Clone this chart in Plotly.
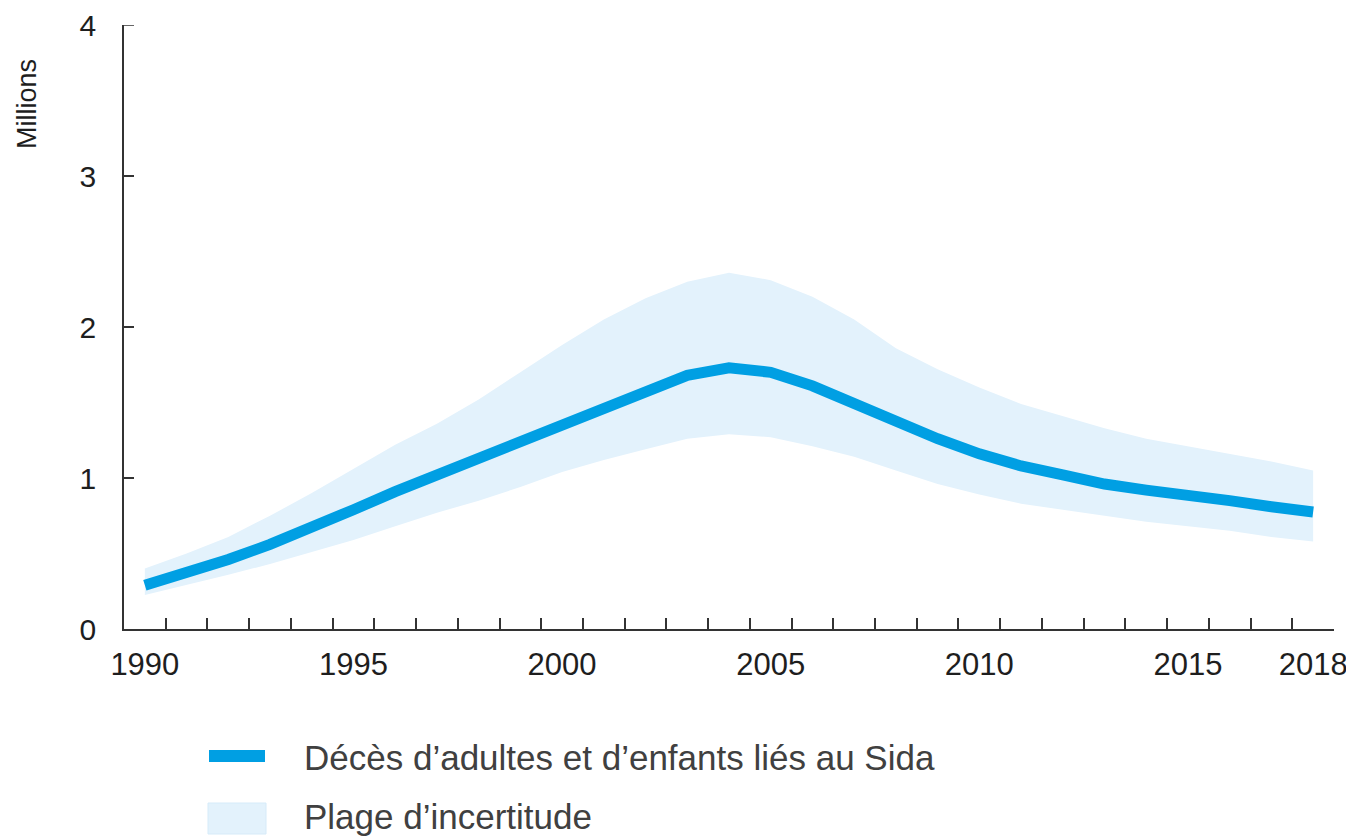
import plotly.graph_objects as go

years = list(range(1990, 2019))
deaths = [0.29, 0.37, 0.46, 0.56, 0.67, 0.79, 0.91, 1.02, 1.13, 1.24,
          1.36, 1.47, 1.58, 1.68, 1.73, 1.70, 1.61, 1.49, 1.37, 1.26,
          1.16, 1.08, 1.02, 0.96, 0.92, 0.89, 0.85, 0.81, 0.775]
upper = [0.40, 0.50, 0.61, 0.75, 0.90, 1.06, 1.22, 1.36, 1.52, 1.70,
         1.88, 2.05, 2.19, 2.30, 2.36, 2.31, 2.20, 2.05, 1.86, 1.72,
         1.60, 1.49, 1.41, 1.33, 1.26, 1.21, 1.16, 1.11, 1.05]
lower = [0.225, 0.29, 0.36, 0.43, 0.51, 0.59, 0.68, 0.77, 0.85, 0.94,
         1.04, 1.12, 1.19, 1.26, 1.29, 1.27, 1.21, 1.14, 1.05, 0.96,
         0.89, 0.83, 0.79, 0.75, 0.71, 0.68, 0.65, 0.61, 0.58]
tick_years = [1990, 1995, 2000, 2005, 2010, 2015, 2018]
y_ticks = [0, 1, 2, 3, 4]
legend_labels = ["D\u00e9c\u00e8s d\u2019adultes et d\u2019enfants li\u00e9s au Sida",
                 "Plage d\u2019incertitude"]

line_color = "#009fe3"
band_color = "#e3f2fc"
text_color = "#404040"
axis_text = "#1e1e1e"
font_family = "Liberation Sans, Arial, sans-serif"

# the page body has an 8px margin: size the figure so it fills the window
OFF = 8
W, H = 1354 - OFF, 838 - OFF
ML, MR, MT, MB = 124 - OFF, 20, 25 - OFF, 838 - 629
PW, PH = W - ML - MR, H - MT - MB
YTICKLEN = 10


def px_x(px):
    # px is a window pixel position
    return (px - OFF - ML) / PW


def px_y(py):
    return (H - MB - (py - OFF)) / PH


fig = go.Figure()
fig.add_trace(go.Scatter(x=years, y=lower, mode="lines", line=dict(width=0, color=band_color),
                         showlegend=False, hoverinfo="skip"))
fig.add_trace(go.Scatter(x=years, y=upper, mode="lines", line=dict(width=0, color=band_color),
                         fill="tonexty", fillcolor=band_color, name=legend_labels[1],
                         showlegend=False))
fig.add_trace(go.Scatter(x=years, y=deaths, mode="lines", line=dict(width=11, color=line_color),
                         name=legend_labels[0], showlegend=False))

fig.update_layout(
    width=W, height=H,
    margin=dict(l=ML, r=MR, t=MT, b=MB, autoexpand=False),
    paper_bgcolor="white", plot_bgcolor="white",
    font=dict(family=font_family, color=text_color, size=30),
    showlegend=False,
    xaxis=dict(range=[1989.5, 2018.5], showgrid=False, zeroline=False, automargin=False,
               showline=True, linecolor="#333333", linewidth=1.5,
               tickmode="array", tickvals=tick_years, ticktext=[str(t) for t in tick_years],
               ticks="inside", ticklen=0, tickcolor="rgba(0,0,0,0)",
               ticklabelstandoff=7, ticklabeloverflow="allow",
               tickfont=dict(size=31, color=axis_text),
               minor=dict(tickmode="linear", tick0=1990.5, dtick=1, ticks="inside",
                          ticklen=11, tickcolor="#333333", tickwidth=1.5, showgrid=False)),
    yaxis=dict(range=[0, 4], showgrid=False, zeroline=False, automargin=False,
               showline=True, linecolor="#333333", linewidth=1.5,
               tickmode="array", tickvals=y_ticks, ticks="inside", ticklen=YTICKLEN,
               tickcolor="#333333", tickwidth=1.5, ticklabelstandoff=20,
               ticklabeloverflow="allow",
               tickfont=dict(size=30, color=axis_text)),
)

# top y tick mark (Plotly drops the inside tick at the very top edge)
fig.add_shape(type="line", xref="paper", yref="y", x0=0, x1=YTICKLEN / PW,
              y0=y_ticks[-1], y1=y_ticks[-1], line=dict(color="#333333", width=1.5))

# y-axis title
fig.add_annotation(text="Millions", xref="paper", yref="paper", x=px_x(27), y=px_y(104),
                   xanchor="center", yanchor="middle", textangle=-90, showarrow=False,
                   font=dict(size=27, color=axis_text))

# legend (manual)
fig.add_shape(type="line", xref="paper", yref="paper",
              x0=px_x(209), x1=px_x(265), y0=px_y(756), y1=px_y(756),
              line=dict(color=line_color, width=12))
fig.add_shape(type="rect", xref="paper", yref="paper",
              x0=px_x(208), x1=px_x(266), y0=px_y(803), y1=px_y(834),
              fillcolor=band_color, line=dict(color="#d6ebf9", width=1))
fig.add_annotation(text=legend_labels[0], xref="paper", yref="paper",
                   x=px_x(302), y=px_y(757), xanchor="left", yanchor="middle",
                   showarrow=False, font=dict(size=35, color=text_color))
fig.add_annotation(text=legend_labels[1], xref="paper", yref="paper",
                   x=px_x(302), y=px_y(816), xanchor="left", yanchor="middle",
                   showarrow=False, font=dict(size=35, color=text_color))

fig.write_html("out.html")
